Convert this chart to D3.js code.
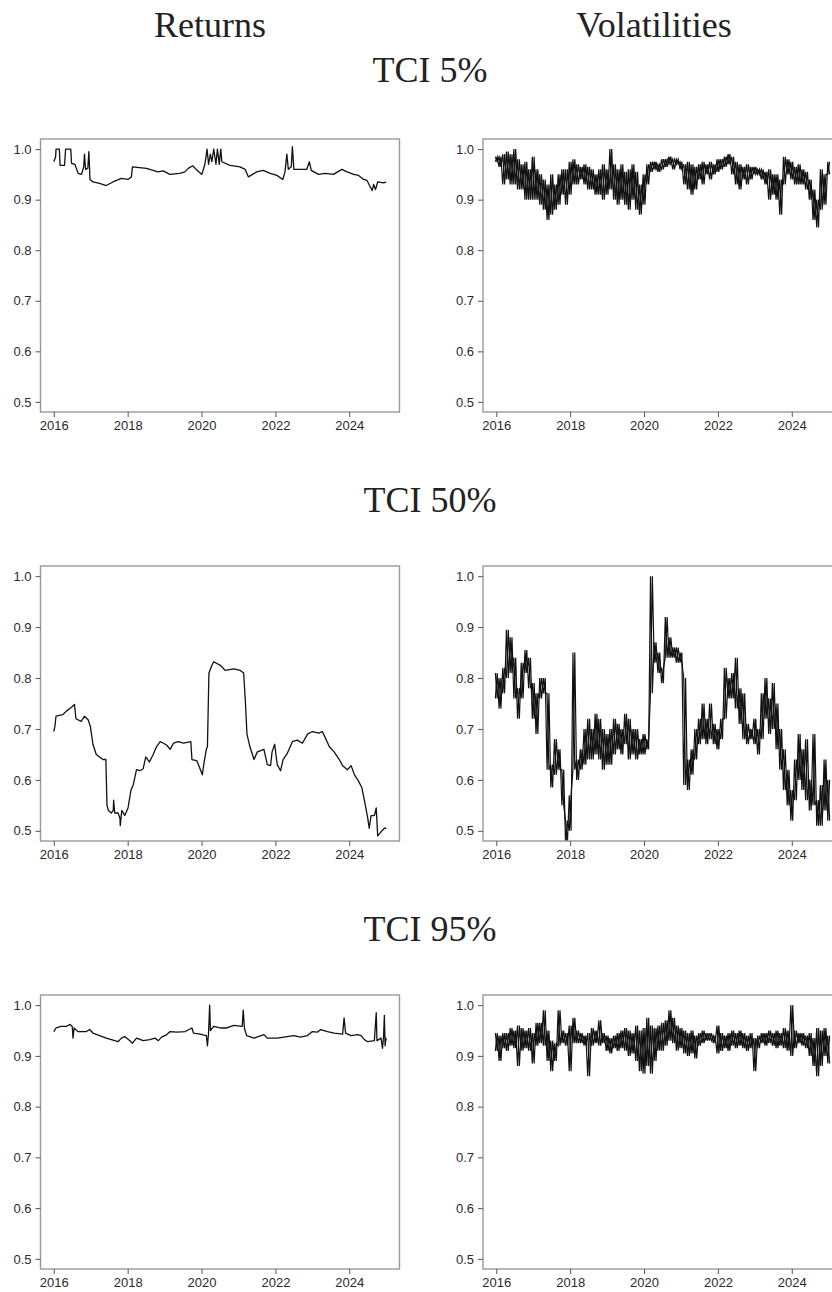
<!DOCTYPE html>
<meta charset="utf-8">
<head>
<style>
body { margin: 0; background: #fff; }
svg { display: block; }
.ttl { font-family: "Liberation Serif", "Times New Roman", serif; font-size: 36px; fill: #222; }
.axis text { font-family: "Liberation Sans", Arial, sans-serif; font-size: 13px; fill: #2a2a2a; }
.axis line { stroke: #555; }
.axis path { display: none; }
.frame { fill: none; stroke: #999; stroke-width: 1.4; }
.series { fill: none; stroke: #111; stroke-width: 1.3; stroke-linejoin: round; }
.series.vol { stroke-width: 1.2; stroke-linejoin: miter; }
</style>
</head>
<body>
<svg id="plot" width="832" height="1292"></svg>

<script src="https://d3js.org/d3.v7.min.js"></script>
<script>

// ---- data ----

var colTitles = ["Returns", "Volatilities"];
var rowTitles = ["TCI 5%", "TCI 50%", "TCI 95%"];
var yTicks = [0.5, 0.6, 0.7, 0.8, 0.9, 1.0];
var xTicks = [2016, 2018, 2020, 2022, 2024];

// returns: [decimal year, TCI]
var ret5 = [[2016.00,0.975],[2016.05,0.985],[2016.06,1.0],[2016.15,1.0],[2016.17,0.968],[2016.29,0.968],[2016.32,1.0],
  [2016.46,1.0],[2016.48,0.972],[2016.57,0.97],[2016.66,0.952],[2016.75,0.95],[2016.81,0.965],[2016.83,0.99],[2016.86,0.96],
  [2016.92,0.962],[2016.95,0.995],[2016.98,0.94],[2017.06,0.935],[2017.24,0.932],[2017.42,0.928],[2017.60,0.935],[2017.83,0.942],
  [2018.01,0.94],[2018.10,0.945],[2018.13,0.965],[2018.51,0.962],[2018.69,0.958],[2018.82,0.955],[2018.96,0.957],[2019.14,0.95],
  [2019.41,0.952],[2019.55,0.955],[2019.64,0.962],[2019.76,0.967],[2019.88,0.958],[2020.01,0.95],[2020.09,0.97],[2020.15,1.0],
  [2020.19,0.97],[2020.24,0.99],[2020.28,0.975],[2020.33,1.0],[2020.39,0.97],[2020.43,1.0],[2020.48,0.97],[2020.52,1.0],
  [2020.55,0.975],[2020.77,0.968],[2021.04,0.965],[2021.18,0.96],[2021.27,0.945],[2021.49,0.955],[2021.67,0.958],[2021.86,0.952],
  [2022.04,0.948],[2022.20,0.94],[2022.26,0.955],[2022.31,0.99],[2022.35,0.96],[2022.43,0.965],[2022.46,1.005],[2022.50,0.96],
  [2022.85,0.96],[2022.92,0.975],[2022.97,0.958],[2023.17,0.95],[2023.35,0.952],[2023.57,0.95],[2023.80,0.96],[2023.94,0.955],
  [2024.12,0.95],[2024.25,0.948],[2024.39,0.94],[2024.48,0.938],[2024.57,0.925],[2024.62,0.918],[2024.66,0.93],[2024.71,0.92],
  [2024.77,0.935],[2024.93,0.933],[2025.00,0.935]];

var ret50 = [[2016.00,0.695],[2016.03,0.705],[2016.06,0.725],[2016.24,0.728],[2016.34,0.735],[2016.47,0.742],[2016.56,0.748],
  [2016.60,0.72],[2016.74,0.715],[2016.83,0.725],[2016.93,0.718],[2016.99,0.705],[2017.06,0.67],[2017.15,0.65],[2017.24,0.645],
  [2017.33,0.64],[2017.41,0.64],[2017.44,0.55],[2017.48,0.54],[2017.56,0.535],[2017.61,0.54],[2017.62,0.56],[2017.65,0.535],
  [2017.74,0.535],[2017.79,0.525],[2017.80,0.51],[2017.84,0.54],[2017.92,0.53],[2018.01,0.545],[2018.09,0.58],[2018.15,0.59],
  [2018.24,0.62],[2018.33,0.618],[2018.42,0.622],[2018.49,0.645],[2018.59,0.635],[2018.69,0.65],[2018.78,0.665],[2018.88,0.675],
  [2018.97,0.672],[2019.06,0.668],[2019.15,0.66],[2019.24,0.672],[2019.37,0.675],[2019.51,0.672],[2019.71,0.675],[2019.74,0.64],
  [2019.87,0.638],[2019.96,0.622],[2020.02,0.61],[2020.07,0.635],[2020.13,0.66],[2020.16,0.665],[2020.20,0.81],[2020.28,0.825],
  [2020.33,0.832],[2020.51,0.825],[2020.64,0.815],[2020.87,0.818],[2021.05,0.815],[2021.14,0.81],[2021.19,0.75],[2021.23,0.69],
  [2021.31,0.665],[2021.42,0.64],[2021.51,0.655],[2021.69,0.66],[2021.78,0.63],[2021.87,0.628],[2021.91,0.655],[2021.98,0.67],
  [2022.05,0.63],[2022.14,0.618],[2022.21,0.64],[2022.32,0.652],[2022.46,0.675],[2022.59,0.678],[2022.73,0.672],[2022.87,0.69],
  [2023.00,0.695],[2023.18,0.692],[2023.27,0.695],[2023.37,0.68],[2023.46,0.665],[2023.59,0.655],[2023.73,0.64],[2023.82,0.628],
  [2023.95,0.62],[2024.05,0.628],[2024.14,0.61],[2024.23,0.60],[2024.34,0.585],[2024.41,0.56],[2024.50,0.525],[2024.54,0.505],
  [2024.59,0.53],[2024.68,0.53],[2024.73,0.545],[2024.77,0.49],[2024.86,0.498],[2024.95,0.505],[2025.00,0.505]];

var ret95 = [[2016.00,0.948],[2016.06,0.955],[2016.20,0.958],[2016.34,0.958],[2016.44,0.962],[2016.50,0.958],[2016.52,0.935],
  [2016.55,0.955],[2016.65,0.948],[2016.88,0.948],[2016.97,0.952],[2017.06,0.945],[2017.24,0.94],[2017.42,0.935],[2017.56,0.932],
  [2017.74,0.928],[2017.83,0.935],[2017.92,0.938],[2018.06,0.93],[2018.13,0.925],[2018.24,0.935],[2018.42,0.93],[2018.60,0.932],
  [2018.74,0.935],[2018.83,0.93],[2018.92,0.937],[2019.06,0.942],[2019.15,0.948],[2019.33,0.947],[2019.56,0.948],[2019.74,0.955],
  [2019.78,0.945],[2019.96,0.943],[2020.13,0.94],[2020.16,0.92],[2020.19,0.945],[2020.22,1.0],[2020.24,0.95],[2020.33,0.958],
  [2020.51,0.955],[2020.69,0.955],[2020.87,0.96],[2021.10,0.958],[2021.13,0.99],[2021.16,0.955],[2021.22,0.94],[2021.42,0.935],
  [2021.69,0.942],[2021.78,0.935],[2022.05,0.935],[2022.32,0.938],[2022.50,0.94],[2022.68,0.937],[2022.87,0.94],[2023.00,0.948],
  [2023.14,0.947],[2023.23,0.952],[2023.41,0.948],[2023.59,0.945],[2023.82,0.943],[2023.86,0.975],[2023.90,0.945],[2024.05,0.94],
  [2024.23,0.942],[2024.32,0.94],[2024.41,0.932],[2024.50,0.928],[2024.68,0.93],[2024.73,0.985],[2024.75,0.93],[2024.86,0.935],
  [2024.90,0.915],[2024.93,0.94],[2024.95,0.98],[2024.97,0.92],[2024.99,0.935],[2025.00,0.93]];

// volatilities: upper / lower edge of the daily band, every 0.1 year from 2016.0 to 2025.0
var vol5Hi = [0.985,0.985,0.99,0.995,0.99,1.0,0.98,0.97,0.975,0.96,
  0.985,0.96,0.95,0.94,0.93,0.95,0.93,0.95,0.96,0.96,
  0.975,0.98,0.97,0.965,0.97,0.965,0.96,0.95,0.96,0.97,
  0.96,1.0,0.97,0.96,0.97,0.955,0.96,0.97,0.955,0.93,
  0.95,0.97,0.975,0.975,0.97,0.98,0.98,0.985,0.98,0.98,
  0.975,0.97,0.975,0.97,0.965,0.97,0.975,0.97,0.975,0.97,
  0.98,0.98,0.985,0.99,0.985,0.975,0.97,0.965,0.97,0.965,
  0.965,0.96,0.96,0.955,0.96,0.95,0.95,0.94,0.985,0.98,
  0.975,0.965,0.97,0.96,0.955,0.94,0.92,0.90,0.96,0.95,0.975];
var vol5Lo = [0.975,0.965,0.93,0.94,0.93,0.93,0.92,0.92,0.90,0.90,
  0.90,0.90,0.89,0.88,0.86,0.87,0.88,0.89,0.91,0.89,
  0.91,0.93,0.93,0.94,0.93,0.92,0.92,0.91,0.91,0.90,
  0.91,0.92,0.90,0.89,0.90,0.89,0.88,0.90,0.88,0.87,
  0.89,0.93,0.955,0.96,0.955,0.96,0.965,0.97,0.96,0.97,
  0.96,0.93,0.92,0.91,0.92,0.94,0.93,0.95,0.94,0.95,
  0.955,0.96,0.965,0.97,0.95,0.93,0.92,0.94,0.93,0.94,
  0.95,0.95,0.94,0.93,0.90,0.91,0.90,0.87,0.93,0.95,
  0.94,0.93,0.93,0.93,0.92,0.90,0.86,0.845,0.88,0.89,0.95];

var vol50Hi = [0.81,0.80,0.82,0.895,0.88,0.84,0.78,0.83,0.855,0.84,
  0.79,0.77,0.80,0.80,0.77,0.63,0.68,0.66,0.62,0.52,
  0.57,0.85,0.64,0.66,0.70,0.72,0.70,0.73,0.72,0.70,
  0.69,0.70,0.72,0.71,0.70,0.73,0.72,0.70,0.70,0.68,
  0.69,0.68,1.0,0.87,0.85,0.82,0.92,0.88,0.86,0.86,
  0.85,0.80,0.64,0.66,0.70,0.72,0.75,0.72,0.75,0.71,
  0.70,0.72,0.82,0.80,0.81,0.84,0.78,0.77,0.71,0.70,
  0.72,0.70,0.77,0.80,0.76,0.79,0.75,0.70,0.66,0.62,
  0.58,0.64,0.69,0.66,0.68,0.60,0.69,0.56,0.59,0.64,0.60];
var vol50Lo = [0.76,0.74,0.77,0.80,0.81,0.76,0.72,0.76,0.81,0.78,
  0.72,0.69,0.76,0.77,0.62,0.585,0.61,0.62,0.55,0.475,
  0.50,0.62,0.60,0.62,0.63,0.64,0.64,0.65,0.64,0.62,
  0.63,0.63,0.65,0.66,0.65,0.67,0.64,0.65,0.64,0.65,
  0.65,0.66,0.77,0.83,0.81,0.79,0.84,0.84,0.84,0.83,
  0.83,0.59,0.58,0.61,0.64,0.67,0.68,0.67,0.68,0.67,
  0.66,0.68,0.72,0.76,0.76,0.74,0.71,0.68,0.67,0.68,
  0.67,0.65,0.68,0.72,0.69,0.70,0.66,0.62,0.58,0.55,
  0.52,0.56,0.60,0.58,0.56,0.54,0.55,0.51,0.51,0.54,0.52];

var vol95Hi = [0.945,0.94,0.945,0.945,0.955,0.95,0.96,0.955,0.95,0.955,
  0.945,0.965,0.965,0.99,0.95,0.93,0.925,0.99,0.95,0.945,
  0.96,0.975,0.95,0.945,0.94,0.945,0.955,0.95,0.97,0.945,
  0.94,0.935,0.94,0.945,0.95,0.955,0.95,0.945,0.96,0.95,
  0.955,0.975,0.96,0.955,0.96,0.965,0.97,0.99,0.975,0.96,
  0.955,0.95,0.945,0.95,0.94,0.945,0.95,0.945,0.945,0.94,
  0.96,0.945,0.94,0.945,0.95,0.945,0.95,0.945,0.94,0.945,
  0.935,0.94,0.945,0.945,0.95,0.945,0.95,0.945,0.955,0.95,
  1.0,0.95,0.945,0.945,0.94,0.945,0.935,0.955,0.95,0.955,0.94];
var vol95Lo = [0.91,0.89,0.915,0.91,0.92,0.915,0.88,0.91,0.915,0.91,
  0.885,0.92,0.925,0.92,0.89,0.87,0.89,0.92,0.925,0.92,
  0.87,0.925,0.925,0.925,0.92,0.86,0.92,0.925,0.92,0.925,
  0.91,0.905,0.915,0.91,0.915,0.91,0.90,0.905,0.89,0.87,
  0.865,0.88,0.865,0.89,0.91,0.91,0.92,0.93,0.925,0.91,
  0.915,0.905,0.90,0.905,0.895,0.92,0.925,0.93,0.93,0.925,
  0.905,0.91,0.915,0.91,0.92,0.915,0.92,0.915,0.91,0.915,
  0.87,0.915,0.925,0.92,0.925,0.92,0.915,0.92,0.915,0.91,
  0.90,0.915,0.925,0.92,0.915,0.90,0.88,0.86,0.88,0.90,0.885];

// ---- layout ----

var svg = d3.select("#plot");
var colX = [40.5, 483], panelW = 359;
var rowY = [139, 566, 995], panelH = [273, 275, 274];

// the daily volatility series is drawn as two interleaved traces running
// between the read upper and lower edges of each 0.1-year slice
function band(hi, lo, flip) {
  var pts = [];
  hi.forEach(function(h, k) {
    var t = 2016 + k / 10;
    var a = flip ? lo[k] : h, b = flip ? h : lo[k];
    pts.push([t - 0.025, a]);
    pts.push([t + 0.025, b]);
  });
  return pts;
}

var panels = [
  {row: 0, col: 0, lines: [ret5]},
  {row: 0, col: 1, lines: [band(vol5Hi, vol5Lo, false), band(vol5Hi, vol5Lo, true)], vol: true},
  {row: 1, col: 0, lines: [ret50]},
  {row: 1, col: 1, lines: [band(vol50Hi, vol50Lo, false), band(vol50Hi, vol50Lo, true)], vol: true},
  {row: 2, col: 0, lines: [ret95]},
  {row: 2, col: 1, lines: [band(vol95Hi, vol95Lo, false), band(vol95Hi, vol95Lo, true)], vol: true}
];

svg.selectAll(".coltitle").data(colTitles).enter().append("text")
    .attr("class", "ttl")
    .attr("x", function(d, i) { return [210, 654][i]; })
    .attr("y", 37)
    .attr("text-anchor", "middle")
    .text(function(d) { return d; });

svg.selectAll(".rowtitle").data(rowTitles).enter().append("text")
    .attr("class", "ttl")
    .attr("x", 430)
    .attr("y", function(d, i) { return [82, 512, 941][i]; })
    .attr("text-anchor", "middle")
    .text(function(d) { return d; });

panels.forEach(function(p, i) {
  var w = panelW, h = panelH[p.row];
  var g = svg.append("g")
      .attr("transform", "translate(" + colX[p.col] + "," + rowY[p.row] + ")");

  var x = d3.scaleLinear().domain([2015.64, 2025.36]).range([0, w]);
  var y = d3.scaleLinear().domain([0.48, 1.02]).range([h, 0]);

  g.append("clipPath").attr("id", "clip" + i)
    .append("rect").attr("width", w).attr("height", h);

  var line = d3.line()
      .x(function(d) { return x(d[0]); })
      .y(function(d) { return y(d[1]); });

  g.append("g")
      .attr("clip-path", "url(#clip" + i + ")")
    .selectAll("path")
    .data(p.lines)
    .enter().append("path")
      .attr("class", p.vol ? "series vol" : "series")
      .attr("d", line);

  g.append("rect")
      .attr("class", "frame")
      .attr("width", w)
      .attr("height", h);

  g.append("g")
      .attr("class", "axis")
      .call(d3.axisLeft(y).tickValues(yTicks).tickFormat(d3.format(".1f"))
          .tickSize(5).tickPadding(4));

  g.append("g")
      .attr("class", "axis")
      .attr("transform", "translate(0," + h + ")")
      .call(d3.axisBottom(x).tickValues(xTicks).tickFormat(d3.format("d"))
          .tickSize(5).tickPadding(4));
});

</script>
</body>
